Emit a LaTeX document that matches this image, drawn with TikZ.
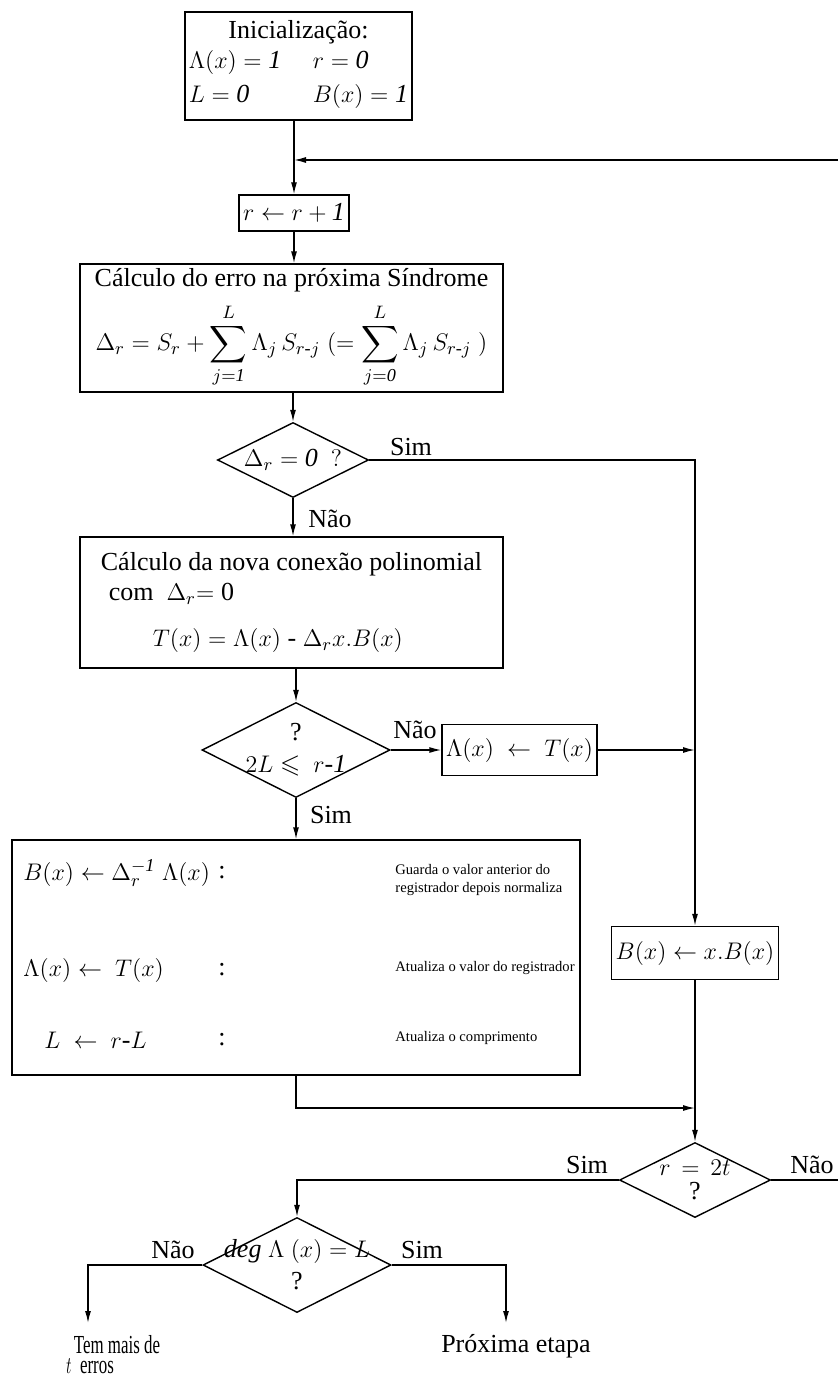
\documentclass[tikz,border=0pt]{standalone}
\usepackage{fontspec}
\setmainfont{Liberation Serif}
\usepackage{amsmath,amssymb}
\usetikzlibrary{shapes.geometric,arrows.meta,positioning,calc}

\begin{document}
\begin{tikzpicture}[x=0.5pt, y=-0.5pt,
    font=\fontsize{13}{15}\selectfont,
    flowbox/.style={rectangle, draw, line width=0.7pt, inner sep=2pt},
    decision/.style={diamond, draw, line width=0.7pt, inner sep=0pt, aspect=2},
    smalldec/.style={decision, minimum width=75.5pt, minimum height=37.5pt},
    largedec/.style={decision, minimum width=94pt, minimum height=47.5pt},
    note/.style={font=\fontsize{7.3}{9}\selectfont, align=left, anchor=west, inner sep=0pt},
    term/.style={anchor=west, inner sep=0pt},
    lbl/.style={inner sep=0pt},
    arr/.style={-{Latex[length=6pt,width=3pt]}, line width=0.7pt},
    conn/.style={line width=0.7pt}
]
\useasboundingbox (0,0) rectangle (838,1379);

% start and loop head
\node[flowbox, minimum width=108.5pt, minimum height=54pt, align=center] (init) at (298.5,66)
    {Inicialização:\\[1pt]
     \begin{tabular}{@{}p{50pt}l@{}}
     $\Lambda(x)=\mathit{1}$ & $r=\mathit{0}$\\[2pt]
     $L=\mathit{0}$ & $B(x)=\mathit{1}$
     \end{tabular}};
\node[flowbox, minimum width=55pt, minimum height=18pt] (rbox) at (294,213) {$r\leftarrow r+\mathit{1}$};
\coordinate (loopin) at (838,160);

\node[flowbox, minimum width=211.5pt, minimum height=57pt, align=center] (calc) at (291.5,328)
    {Cálculo do erro na próxima Síndrome\\[5pt]
     $\displaystyle \Delta_r=S_r+\sum_{j=\mathit{1}}^{L}\Lambda_j\,S_{r\text{-}j}\;
      (=\sum_{j=\mathit{0}}^{L}\Lambda_j\,S_{r\text{-}j}\;)$};

\node[smalldec, label={[lbl]center:{$\Delta_r=\mathit{0}\ \ ?$}}] (chk) at (293,460) {};

\node[flowbox, minimum width=211.5pt, minimum height=65.5pt, align=left] (conn) at (291.5,602.5)
    {Cálculo da nova conexão polinomial\\
     \hspace*{4pt}com\ \ $\Delta_r\mathrm{=0}$\\[8pt]
     \hspace*{26pt}$T(x)=\Lambda(x)\ \text{-}\ \Delta_r x.B(x)$};

\node[largedec, label={[lbl, align=center]center:{?\\[1pt]$2L\leqslant\ r\text{-}\mathit{1}$}}] (len) at (296,750) {};
\node[flowbox, minimum width=72.5pt, minimum height=25.5pt] (lamT) at (519.5,750) {$\Lambda(x)\ \leftarrow\ T(x)$};

% update block
\node[flowbox, minimum width=284pt, minimum height=117.5pt] (upd) at (296,957.5) {};
\node[term] (ua) at (23,873) {$B(x)\leftarrow\Delta_r^{-\mathit{1}}\ \Lambda(x)$};
\node[lbl] (ca) at (222,873) {:};
\node[note] (na) at (395,880) {Guarda o valor anterior do\\registrador depois normaliza};
\node[term] (ub) at (23,970) {$\Lambda(x)\leftarrow\ T(x)$};
\node[lbl] (cb) at (222,970) {:};
\node[note] (nb) at (395,968) {Atualiza o valor do registrador};
\node[term] (uc) at (44,1040) {$L\ \leftarrow\ r\text{-}L$};
\node[lbl] (cc) at (222,1040) {:};
\node[note] (nc) at (395,1038) {Atualiza o comprimento};

\node[flowbox, minimum width=80pt, minimum height=26.5pt] (shift) at (695,953) {$B(x)\leftarrow x.B(x)$};
\coordinate (join) at (695,1108);

% final tests
\node[smalldec, label={[lbl, align=center]center:{$r\,=\,2t$\\[-3pt]?}}] (tst) at (695,1180) {};
\coordinate (loopout) at (838,1180);
\node[largedec, label={[lbl, align=center]center:{$\mathit{deg}\ \Lambda\ (x)=L$\\[1pt]?}}] (deg) at (297,1265) {};
\coordinate (endnao) at (88,1323);
\coordinate (endsim) at (506,1323);
\node[lbl] (tema) at (117,1345) {\scalebox{0.65}[1]{Tem mais de}};
\node[lbl] (temb) at (90,1366) {\scalebox{0.65}[1]{$t$\ \ erros}};
\node[lbl] (prox) at (516,1346) {Próxima etapa};

% branch labels
\node[lbl] (sima) at (411,447) {Sim};
\node[lbl] (naoa) at (330,519) {Não};
\node[lbl] (naob) at (415,730) {Não};
\node[lbl] (simb) at (331,815) {Sim};
\node[lbl] (simc) at (587,1165) {Sim};
\node[lbl] (naoc) at (812,1165) {Não};
\node[lbl] (naod) at (173,1250) {Não};
\node[lbl] (simd) at (422,1250) {Sim};

% connectors
\draw[arr] (init.south -| rbox.north) -- (rbox.north);
\draw[arr] (loopin) -- (loopin -| rbox.north);
\draw[arr] (rbox.south) -- (rbox.south |- calc.north);
\draw[arr] (calc.south -| chk.north) -- (chk.north);
\draw[arr] (chk.south) -- (chk.south |- conn.north);
\draw[arr] (conn.south -| len.north) -- (len.north);
\draw[arr] (len.east) -- (lamT.west);
\draw[arr] (len.south) -- (len.south |- upd.north);
\draw[arr] (chk.east) -| (shift.north);
\draw[arr] (lamT.east) -- (lamT.east -| shift.north);
\draw[arr] (upd.south) |- (join);
\draw[arr] (shift.south) -- (tst.north);
\draw[conn] (tst.east) -- (loopout);
\draw[arr] (tst.west) -| (deg.north);
\draw[arr] (deg.west) -| (endnao);
\draw[arr] (deg.east) -| (endsim);
\end{tikzpicture}
\end{document}
